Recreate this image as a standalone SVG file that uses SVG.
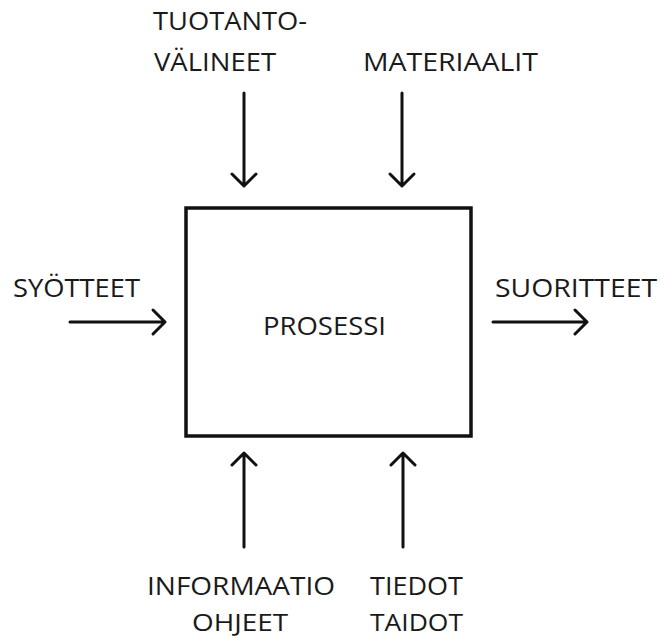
<svg xmlns="http://www.w3.org/2000/svg" width="661" height="638" viewBox="0 0 661 638">
<style>
.t{font-family:"Open Sans","Liberation Sans",sans-serif;font-size:25px;fill:#1a1a1a}
.b{font-size:24px}
.c{stroke:#111;stroke-width:3;fill:none;stroke-linecap:round;stroke-linejoin:round}
</style>
<rect width="661" height="638" fill="#fff"/>
<g id="prosessi">
<rect x="186" y="208" width="285" height="228" fill="#fff" stroke="#111" stroke-width="3.5"/>
<text class="t" x="263" y="335" textLength="123" lengthAdjust="spacingAndGlyphs">PROSESSI</text>
</g>
<g id="tuotantovalineet">
<text class="t" x="153" y="30" textLength="154" lengthAdjust="spacingAndGlyphs">TUOTANTO-</text>
<text class="t" x="154" y="71" textLength="122" lengthAdjust="spacingAndGlyphs">VÄLINEET</text>
</g>
<g id="materiaalit">
<text class="t" x="363" y="71" textLength="175" lengthAdjust="spacingAndGlyphs">MATERIAALIT</text>
</g>
<g id="syotteet">
<text class="t" x="13" y="297" textLength="127" lengthAdjust="spacingAndGlyphs">SYÖTTEET</text>
</g>
<g id="suoritteet">
<text class="t" x="495" y="297" textLength="162" lengthAdjust="spacingAndGlyphs">SUORITTEET</text>
</g>
<g id="informaatio">
<text class="t" x="147" y="595" textLength="188" lengthAdjust="spacingAndGlyphs">INFORMAATIO</text>
<text class="t b" x="192" y="631" textLength="96" lengthAdjust="spacingAndGlyphs">OHJEET</text>
</g>
<g id="tiedot">
<text class="t" x="370" y="595" textLength="93" lengthAdjust="spacingAndGlyphs">TIEDOT</text>
<text class="t b" x="370" y="631" textLength="93" lengthAdjust="spacingAndGlyphs">TAIDOT</text>
</g>
<g id="connectors">
<path class="c" d="M244 93V186M232 174L244 186L256 174"/>
<path class="c" d="M402 93V186M390 174L402 186L414 174"/>
<path class="c" d="M70 322H165M153 310L165 322L153 334"/>
<path class="c" d="M493 322H587M575 310L587 322L575 334"/>
<path class="c" d="M244 547V453M232 465L244 453L256 465"/>
<path class="c" d="M403 547V453M391 465L403 453L415 465"/>
</g>
</svg>
